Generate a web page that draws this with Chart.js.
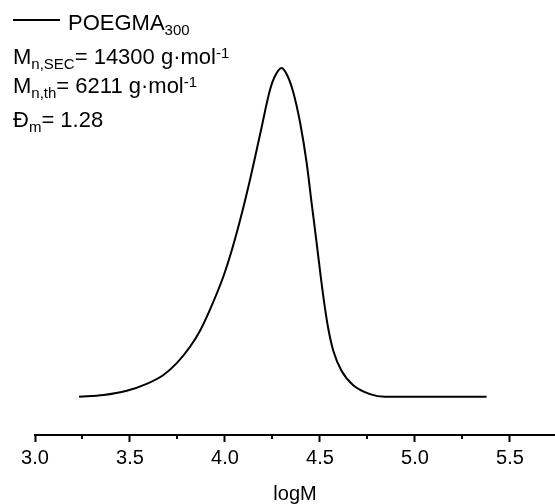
<!DOCTYPE html>
<html>
<head>
<meta charset="utf-8">
<script src="https://cdn.jsdelivr.net/npm/chart.js@4/dist/chart.umd.min.js"></script>
<style>
  html, body { margin: 0; padding: 0; background: #fff; }
  #wrap { position: relative; width: 555px; height: 504px; }
  #note { position: absolute; left: 0; top: 0; font-family: "Liberation Sans", Arial, sans-serif; font-size: 22px; color: #000; }
  #note .ln { position: absolute; white-space: nowrap; line-height: 20px; left: 13px; }
  #note .sub { font-size: 15px; position: relative; top: 5px; }
  #note .sup { font-size: 15px; position: relative; top: -6px; }
  #note .swatch { display: inline-block; width: 47px; border-top: 2px solid #000; vertical-align: middle; position: relative; top: -4px; margin-right: 8px; }
</style>
</head>
<body>
<div id="wrap">
  <canvas id="c" width="555" height="504"></canvas>
  <div id="note">
    <div class="ln" style="top:13px"><span class="swatch"></span>POEGMA<span class="sub">300</span></div>
    <div class="ln" style="top:47px">M<span class="sub">n,SEC</span>= 14300 g·mol<span class="sup">-1</span></div>
    <div class="ln" style="top:76px">M<span class="sub">n,th</span>= 6211 g·mol<span class="sup">-1</span></div>
    <div class="ln" style="top:110px">Đ<span class="sub">m</span>= 1.28</div>
  </div>
</div>
<script>
// logM values (x) and normalized detector signal (y)
const logM = [3.232, 3.36, 3.483, 3.588, 3.676, 3.746, 3.816, 3.868, 3.921, 3.991, 4.035, 4.079, 4.132, 4.184, 4.237, 4.262, 4.298, 4.33, 4.36, 4.395, 4.43, 4.456, 4.483, 4.504, 4.526, 4.545, 4.57, 4.614, 4.675, 4.763, 4.842, 5.0, 5.2, 5.377];
const signal = [0, 0.005, 0.018, 0.039, 0.066, 0.102, 0.152, 0.200, 0.265, 0.365, 0.444, 0.536, 0.661, 0.796, 0.934, 0.974, 1.0, 0.975, 0.925, 0.835, 0.711, 0.589, 0.465, 0.365, 0.270, 0.203, 0.140, 0.078, 0.035, 0.008, 0, 0, 0, 0];
const majorTicks = [3.0, 3.5, 4.0, 4.5, 5.0, 5.5];
const minorTicks = [3.25, 3.75, 4.25, 4.75, 5.25, 5.75];
const seriesName = 'POEGMA300';
const xTitle = 'logM';

const points = logM.map((x, i) => ({ x: x, y: signal[i] }));

const minorTickPlugin = {
  id: 'minorTicks',
  afterDraw(chart) {
    const s = chart.scales.x;
    const ctx = chart.ctx;
    ctx.save();
    ctx.strokeStyle = '#000';
    ctx.lineWidth = 2;
    minorTicks.forEach(v => {
      if (v < s.min || v > s.max) return;
      const px = Math.round(s.getPixelForValue(v));
      ctx.beginPath();
      ctx.moveTo(px, s.top);
      ctx.lineTo(px, s.top + 4);
      ctx.stroke();
    });
    ctx.restore();
  }
};

new Chart(document.getElementById('c'), {
  type: 'line',
  data: {
    datasets: [{
      label: seriesName,
      data: points,
      borderColor: '#000',
      borderWidth: 2,
      pointRadius: 0,
      fill: false,
      cubicInterpolationMode: 'monotone'
    }]
  },
  options: {
    responsive: false,
    animation: false,
    devicePixelRatio: 1,
    layout: { padding: { left: 35, right: 0, top: 0, bottom: 0 } },
    plugins: { legend: { display: false }, tooltip: { enabled: false }, title: { display: false } },
    scales: {
      x: {
        type: 'linear',
        position: 'bottom',
        min: 3.0,
        max: 5.737,
        afterBuildTicks(scale) {
          scale.ticks = majorTicks.map(v => ({ value: v }));
        },
        ticks: {
          autoSkip: false,
          maxRotation: 0,
          includeBounds: false,
          color: '#000',
          padding: 4,
          font: { family: '"Liberation Sans", Arial, sans-serif', size: 20 },
          callback: v => Number(v).toFixed(1)
        },
        grid: { display: true, drawOnChartArea: false, drawTicks: true, tickLength: 7, tickColor: '#000', tickWidth: 2 },
        border: { display: true, color: '#000', width: 2 },
        title: {
          display: true,
          text: xTitle,
          color: '#000',
          font: { family: '"Liberation Sans", Arial, sans-serif', size: 20, lineHeight: 1.0 },
          padding: { top: 10, bottom: 0 }
        }
      },
      y: {
        display: false,
        min: -0.1165,
        max: 1.2069
      }
    }
  },
  plugins: [minorTickPlugin]
});
</script>
</body>
</html>
